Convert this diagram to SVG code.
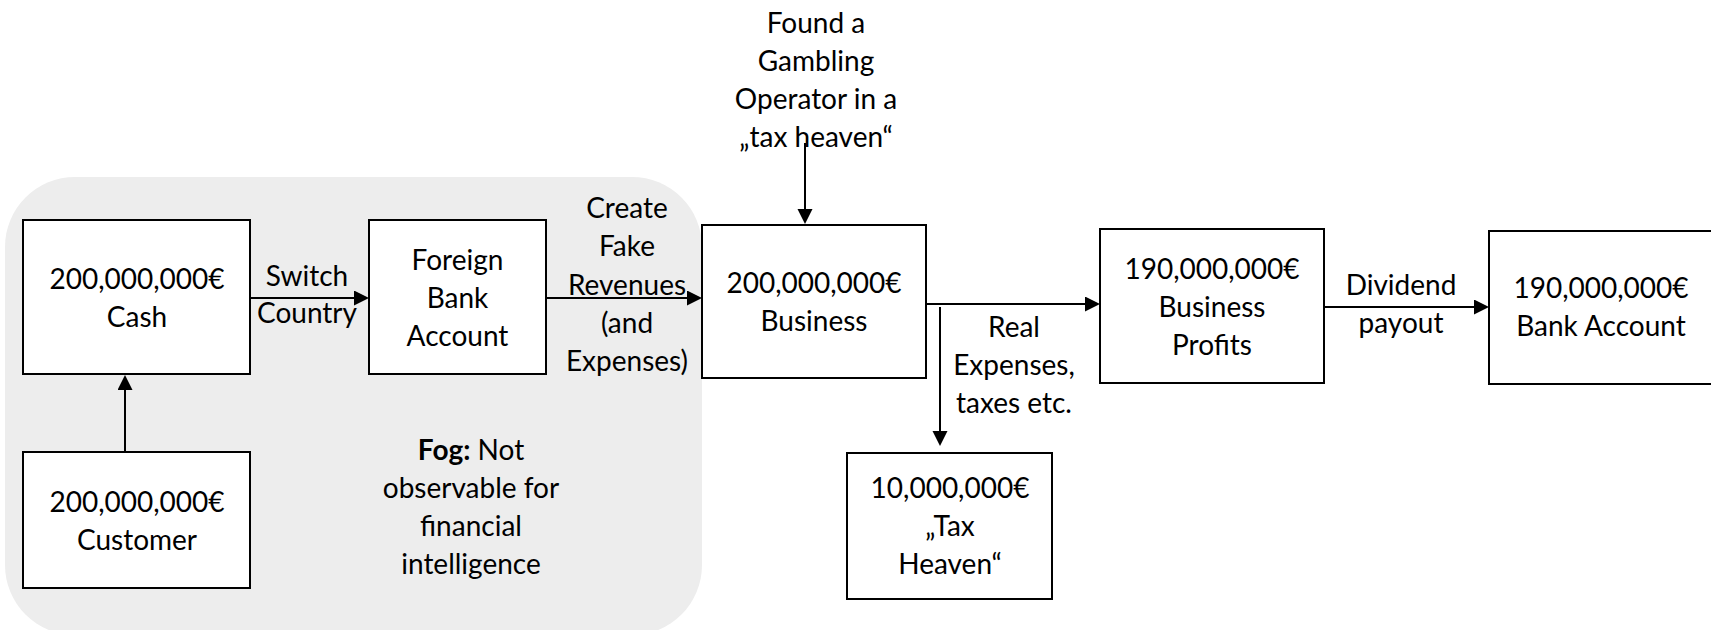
<svg xmlns="http://www.w3.org/2000/svg" width="1711" height="630" viewBox="0 0 1711 630">
<style>
.box{fill:#fff;stroke:#000;stroke-width:2}
.conn{fill:none;stroke:#000;stroke-width:2}
text{font-family:Lato,"Liberation Sans",sans-serif;font-size:28px;fill:#000;text-anchor:middle}
</style>
<defs>
<marker id="ah" markerUnits="userSpaceOnUse" markerWidth="16" markerHeight="16" viewBox="0 0 16 16" refX="7" refY="7.5" orient="auto">
<path d="M0,0 L15,7.5 L0,15 z" fill="#000"/>
</marker>
</defs>
<rect id="fog" x="5" y="177" width="697" height="458" rx="70" ry="70" fill="#ededed"/>
<g id="connectors">
<path class="conn" d="M125,452 L125,383" marker-end="url(#ah)"/>
<path class="conn" d="M250,298 L361,298" marker-end="url(#ah)"/>
<path class="conn" d="M546,298 L694,298" marker-end="url(#ah)"/>
<path class="conn" d="M805,143 L805,216" marker-end="url(#ah)"/>
<path class="conn" d="M926,304 L1092,304" marker-end="url(#ah)"/>
<path class="conn" d="M940,307 L940,438" marker-end="url(#ah)"/>
<path class="conn" d="M1324,307 L1481,307" marker-end="url(#ah)"/>
</g>
<g id="labels">
<text x="307" y="286">Switch</text>
<text x="307" y="323">Country</text>
<text x="627" y="218">Create</text>
<text x="627" y="256">Fake</text>
<text x="627" y="295">Revenues</text>
<text x="627" y="333">(and</text>
<text x="627" y="371">Expenses)</text>
<text x="816" y="33">Found a</text>
<text x="816" y="71">Gambling</text>
<text x="816" y="109">Operator in a</text>
<text x="816" y="147">„tax heaven“</text>
<text x="1014" y="337">Real</text>
<text x="1014" y="375">Expenses,</text>
<text x="1014" y="413">taxes etc.</text>
<text x="1401" y="295">Dividend</text>
<text x="1401" y="333">payout</text>
<text x="471" y="460"><tspan font-weight="bold">Fog:</tspan> Not</text>
<text x="471" y="498">observable for</text>
<text x="471" y="536">financial</text>
<text x="471" y="574">intelligence</text>
</g>
<g id="cash">
<rect class="box" x="23" y="220" width="227" height="154"/>
<text x="137" y="289">200,000,000€</text>
<text x="137" y="327">Cash</text>
</g>
<g id="customer">
<rect class="box" x="23" y="452" width="227" height="136"/>
<text x="137" y="512">200,000,000€</text>
<text x="137" y="550">Customer</text>
</g>
<g id="foreign">
<rect class="box" x="369" y="220" width="177" height="154"/>
<text x="457.5" y="270">Foreign</text>
<text x="457.5" y="308">Bank</text>
<text x="457.5" y="346">Account</text>
</g>
<g id="business">
<rect class="box" x="702" y="225" width="224" height="153"/>
<text x="814" y="293">200,000,000€</text>
<text x="814" y="331">Business</text>
</g>
<g id="taxheaven">
<rect class="box" x="847" y="453" width="205" height="146"/>
<text x="950" y="498">10,000,000€</text>
<text x="950" y="536">„Tax</text>
<text x="950" y="574">Heaven“</text>
</g>
<g id="profits">
<rect class="box" x="1100" y="229" width="224" height="154"/>
<text x="1212" y="279">190,000,000€</text>
<text x="1212" y="317">Business</text>
<text x="1212" y="355">Profits</text>
</g>
<g id="bank">
<rect class="box" x="1489" y="231" width="226" height="153"/>
<text x="1601" y="298">190,000,000€</text>
<text x="1601" y="336">Bank Account</text>
</g>
</svg>
